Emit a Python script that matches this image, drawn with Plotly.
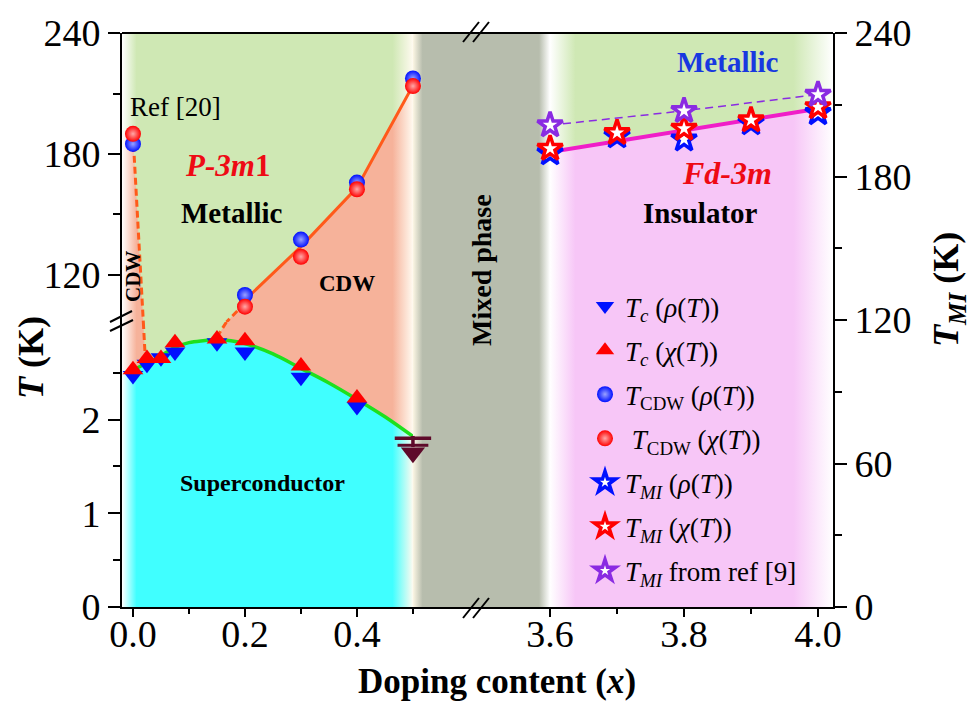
import plotly.graph_objects as go

FONT = "Liberation Serif"

# ---------------- data ----------------
# superconducting transition Tc (K), left lower panel
tc_x = [0.0, 0.025, 0.05, 0.075, 0.15, 0.2, 0.3, 0.4]
tc_rho = [2.47, 2.59, 2.66, 2.72, 2.82, 2.72, 2.45, 2.14]
tc_chi = [2.53, 2.65, 2.65, 2.82, 2.86, 2.84, 2.57, 2.23]
tc_limit_x = [0.5]
tc_limit_y = [1.8]
tc_fit_x = [0.0, 0.025, 0.05, 0.075, 0.1, 0.125, 0.15, 0.175, 0.2, 0.25, 0.3, 0.35, 0.4, 0.45, 0.5]
tc_fit_y = [2.53, 2.60, 2.68, 2.77, 2.82, 2.84, 2.85, 2.84, 2.81, 2.70, 2.545, 2.39, 2.215, 2.03, 1.82]

# CDW transition (K), left upper panel
cdw_x = [0.0, 0.2, 0.3, 0.4, 0.5]
cdw_rho = [185.0, 110.0, 137.5, 165.8, 217.5]
cdw_chi = [190.0, 104.2, 129.0, 162.5, 213.7]
cdw_line_x = [0.2, 0.3, 0.4, 0.5]
cdw_line_y = [107.5, 134.0, 163.3, 214.0]
# dashed CDW guides crossing the broken T axis (upper part / lower part)
guide_left_hi_x = [0.0, 0.0185]
guide_left_hi_y = [190.0, 96.6]
guide_left_lo_x = [0.0185, 0.022]
guide_left_lo_y = [3.04, 2.65]
guide_right_hi_x = [0.2, 0.167]
guide_right_hi_y = [106.0, 96.6]
guide_right_lo_x = [0.167, 0.15]
guide_right_lo_y = [3.04, 2.88]

# metal-insulator transition T_MI (K), right panel
tmi_x = [3.6, 3.7, 3.8, 3.9, 4.0]
tmi_rho = [189.8, 196.9, 195.6, 202.4, 206.6]
tmi_chi = [191.7, 198.3, 200.1, 203.6, 209.1]
tmi_ref_x = [3.6, 3.8, 4.0]
tmi_ref_y = [201.5, 207.5, 214.3]
tmi_fit_x = [3.6, 4.0]
tmi_fit_y = [190.3, 208.4]

# ticks
xl_ticks = [0.0, 0.2, 0.4]
xl_ticktext = ["0.0", "0.2", "0.4"]
xl_minor = [0.1, 0.3, 0.5]
xr_ticks = [3.6, 3.8, 4.0]
xr_ticktext = ["3.6", "3.8", "4.0"]
xr_minor = [3.7, 3.9]
ylo_ticks = [0, 1, 2]
ylo_minor = [0.5, 1.5, 2.5]
yhi_ticks = [120, 180, 240]
yhi_minor = [150, 210]
yr_ticks = [0, 60, 120, 180, 240]
yr_minor = [30, 90, 150, 210]

# ---------------- layout geometry ----------------
W_FIG, H_FIG = 971, 702
L, R, T, B = 122, 833, 33, 607
XL_RANGE = [-0.0196, 0.5001]
XR_RANGE = [3.5999, 4.0224]
YLO_RANGE = [0, 3.04]
YHI_RANGE = [96.6, 240.05]
YR_RANGE = [0, 240.05]


def fx(p):
    return (p - L) / (R - L)


def fy(p):
    return (B - p) / (B - T)


dL = fx(413)
dR = fx(550)
dB = fy(322)

GREEN = "#cfe8b4"
SALMON = "#f6b29a"
CYAN = "#40ffff"
GRAY = "#b7bdad"
PINK = "#f7c6f7"
ORANGE = "#ff5a1a"
MAGENTA = "#f01ec8"
PURPLE = "#8a2be2"
BLUE = "#0010ff"
RED = "#ff0000"
MAROON = "#5e0a2a"


def left_grad(c):
    return dict(type="horizontal", start=XL_RANGE[0], stop=XL_RANGE[1],
                colorscale=[[0, "#ffffff"], [0.05, c], [0.93, c], [1, "#fffaf0"]])


def right_grad(c):
    return dict(type="horizontal", start=XR_RANGE[0], stop=XR_RANGE[1],
                colorscale=[[0, "#ffffff"], [0.09, c], [0.86, c], [1, "#ffffff"]])


def region(xs, ys, grad, xa, ya):
    return go.Scatter(x=xs, y=ys, fill="toself", mode="none", fillgradient=grad,
                      xaxis=xa, yaxis=ya, showlegend=False, hoverinfo="skip")


fig = go.Figure()

# ---- middle: mixed phase (x, y) ----
fig.add_trace(region([0, 1, 1, 0], [0, 0, 1, 1],
                     dict(type="horizontal", start=0, stop=1,
                          colorscale=[[0, "#fcf6e4"], [0.07, GRAY], [0.92, GRAY], [1, "#ffffff"]]),
                     "x", "y"))

# ---- left lower panel (x2, y2) ----
x0, x1 = XL_RANGE
fig.add_trace(region([x0, x1, x1, x0], [0, 0, YLO_RANGE[1], YLO_RANGE[1]], left_grad(SALMON), "x2", "y2"))
inner = [i for i, v in enumerate(tc_fit_x) if guide_left_lo_x[1] < v <= guide_right_lo_x[1]]
gx = guide_left_lo_x + [tc_fit_x[i] for i in inner] + guide_right_lo_x[::-1]
gy = guide_left_lo_y + [tc_fit_y[i] for i in inner] + guide_right_lo_y[::-1]
fig.add_trace(region(gx, gy, left_grad(GREEN), "x2", "y2"))
fig.add_trace(region([x0] + tc_fit_x + [x1, x0], [tc_fit_y[0]] + tc_fit_y + [0, 0], left_grad(CYAN), "x2", "y2"))

fig.add_trace(go.Scatter(x=tc_fit_x, y=tc_fit_y, mode="lines", line=dict(color="#1ee01e", width=3.5, shape="spline"),
                         xaxis="x2", yaxis="y2", showlegend=False, hoverinfo="skip"))
for gxs, gys in [(guide_left_lo_x, guide_left_lo_y), (guide_right_lo_x, guide_right_lo_y)]:
    fig.add_trace(go.Scatter(x=gxs, y=gys, mode="lines", line=dict(color=ORANGE, width=3, dash="7px,4px"),
                             xaxis="x2", yaxis="y2", showlegend=False, hoverinfo="skip"))

# upper-limit symbol at x = 0.5 (bar - stem - bar - arrow head)
fig.add_trace(go.Scatter(x=tc_limit_x, y=tc_limit_y, mode="markers",
                         marker=dict(symbol="line-ew", size=26, line=dict(color=MAROON, width=3.5)),
                         cliponaxis=False, xaxis="x2", yaxis="y2", showlegend=False, hoverinfo="skip"))
fig.add_trace(go.Scatter(x=tc_limit_x, y=[v - 0.035 for v in tc_limit_y], mode="markers",
                         marker=dict(symbol="line-ns", size=8, line=dict(color=MAROON, width=3.5)),
                         cliponaxis=False, xaxis="x2", yaxis="y2", showlegend=False, hoverinfo="skip"))
fig.add_trace(go.Scatter(x=tc_limit_x, y=[v - 0.075 for v in tc_limit_y], mode="markers",
                         marker=dict(symbol="line-ew", size=22, line=dict(color=MAROON, width=3)),
                         cliponaxis=False, xaxis="x2", yaxis="y2", showlegend=False, hoverinfo="skip"))
fig.add_trace(go.Scatter(x=tc_limit_x, y=[v - 0.155 for v in tc_limit_y], mode="markers",
                         marker=dict(symbol="triangle-down", size=21, color=MAROON),
                         cliponaxis=False, xaxis="x2", yaxis="y2", showlegend=False, hoverinfo="skip"))

fig.add_trace(go.Scatter(x=tc_x, y=tc_rho, mode="markers", name="<i>T<sub>c</sub></i> (<i>ρ</i>(<i>T</i>))",
                         legendgroup="g1",
                         marker=dict(symbol="triangle-down", size=18, color=BLUE),
                         cliponaxis=False, xaxis="x2", yaxis="y2"))
fig.add_trace(go.Scatter(x=tc_x, y=tc_chi, mode="markers", name="<i>T<sub>c</sub></i> (<i>χ</i>(<i>T</i>))",
                         legendgroup="g2",
                         marker=dict(symbol="triangle-up", size=18, color=RED),
                         cliponaxis=False, xaxis="x2", yaxis="y2"))

# ---- left upper panel (x3, y3) ----
y0h, y1h = YHI_RANGE
fig.add_trace(region([x0, x1, x1, x0], [y0h, y0h, y1h, y1h], left_grad(GREEN), "x3", "y3"))
sx = guide_right_hi_x[::-1] + cdw_line_x + [x1, x1]
sy = guide_right_hi_y[::-1] + cdw_line_y + [cdw_line_y[-1], y0h]
fig.add_trace(region(sx, sy, left_grad(SALMON), "x3", "y3"))
fig.add_trace(region([x0, x0] + guide_left_hi_x, [y0h, guide_left_hi_y[0]] + guide_left_hi_y,
                     left_grad(SALMON), "x3", "y3"))

fig.add_trace(go.Scatter(x=cdw_line_x, y=cdw_line_y, mode="lines", line=dict(color=ORANGE, width=3),
                         xaxis="x3", yaxis="y3", showlegend=False, hoverinfo="skip"))
for gxs, gys in [(guide_left_hi_x, guide_left_hi_y), (guide_right_hi_x, guide_right_hi_y)]:
    fig.add_trace(go.Scatter(x=gxs, y=gys, mode="lines", line=dict(color=ORANGE, width=3, dash="7px,4px"),
                             xaxis="x3", yaxis="y3", showlegend=False, hoverinfo="skip"))

fig.add_trace(go.Scatter(x=cdw_x, y=cdw_rho, mode="markers", name="<i>T</i><sub>CDW</sub> (<i>ρ</i>(<i>T</i>))",
                         legendgroup="g3",
                         marker=dict(symbol="circle", size=16, color=BLUE,
                                     gradient=dict(type="radial", color="#9aa2ff")),
                         cliponaxis=False, xaxis="x3", yaxis="y3"))
fig.add_trace(go.Scatter(x=cdw_x, y=cdw_chi, mode="markers", name=" <i>T</i><sub>CDW</sub> (<i>χ</i>(<i>T</i>))",
                         legendgroup="g4",
                         marker=dict(symbol="circle", size=16, color=RED,
                                     gradient=dict(type="radial", color="#ffa8a8")),
                         cliponaxis=False, xaxis="x3", yaxis="y3"))

# ---- right panel (x4, y4) ----
r0, r1 = XR_RANGE
fig.add_trace(region([r0, r1, r1, r0], [0, 0, YR_RANGE[1], YR_RANGE[1]], right_grad(PINK), "x4", "y4"))
fig.add_trace(region([r0, r0] + tmi_fit_x + [r1, r1],
                     [YR_RANGE[1], tmi_fit_y[0]] + tmi_fit_y + [tmi_fit_y[-1], YR_RANGE[1]],
                     right_grad(GREEN), "x4", "y4"))
fig.add_trace(go.Scatter(x=tmi_fit_x, y=tmi_fit_y, mode="lines", line=dict(color=MAGENTA, width=4),
                         xaxis="x4", yaxis="y4", showlegend=False, hoverinfo="skip"))
fig.add_trace(go.Scatter(x=tmi_ref_x, y=tmi_ref_y, mode="lines", line=dict(color=PURPLE, width=1.5, dash="8px,5px"),
                         xaxis="x4", yaxis="y4", showlegend=False, hoverinfo="skip"))

star_specs = [(tmi_x, tmi_rho, BLUE, "<i>T<sub>MI</sub></i> (<i>ρ</i>(<i>T</i>))", "g5"),
              (tmi_x, tmi_chi, RED, "<i>T<sub>MI</sub></i> (<i>χ</i>(<i>T</i>))", "g6"),
              (tmi_ref_x, tmi_ref_y, PURPLE, "<i>T<sub>MI</sub></i> from ref [9]", "g7")]
for xs, ys, col, nm, grp in star_specs:
    fig.add_trace(go.Scatter(x=xs, y=ys, mode="markers", name=nm, legendgroup=grp,
                             marker=dict(symbol="star", size=19, color="white", line=dict(color=col, width=3.5)),
                             cliponaxis=False, xaxis="x4", yaxis="y4"))

# ---------------- axes ----------------
tickfont = dict(family=FONT, size=38, color="black")
common = dict(showgrid=False, zeroline=False, showline=True, linecolor="black", linewidth=2,
              ticks="outside", tickcolor="black", tickwidth=2, tickfont=tickfont)


def minor(vals, ln):
    return dict(tickvals=vals, ticklen=ln, tickwidth=2, ticks="outside", tickcolor="black")


fig.update_layout(
    xaxis=dict(domain=[dL, dR], range=[0, 1], anchor="y", showgrid=False, zeroline=False, showline=True,
               linecolor="black", linewidth=2, ticks="", showticklabels=False, fixedrange=True),
    yaxis=dict(domain=[0, 1], range=[0, 1], anchor="x", visible=False, fixedrange=True),
    xaxis2=dict(domain=[0, dL], range=XL_RANGE, anchor="y2", tickvals=xl_ticks, ticktext=xl_ticktext, ticklen=8,
                ticklabelstandoff=-16, minor=minor(xl_minor, 5), **common),
    yaxis2=dict(domain=[0, dB], range=YLO_RANGE, anchor="x2", tickvals=ylo_ticks, ticklen=12,
                minor=minor(ylo_minor, 7), **common),
    xaxis3=dict(domain=[0, dL], range=XL_RANGE, anchor="y3", matches="x2", visible=False),
    yaxis3=dict(domain=[dB, 1], range=YHI_RANGE, anchor="x3", tickvals=yhi_ticks, ticklen=12,
                minor=minor(yhi_minor, 7), **common),
    xaxis4=dict(domain=[dR, 1], range=XR_RANGE, anchor="y4", tickvals=xr_ticks, ticktext=xr_ticktext, ticklen=8,
                ticklabelstandoff=-16, minor=minor(xr_minor, 5), **common),
    yaxis4=dict(domain=[0, 1], range=YR_RANGE, anchor="x4", side="right", tickvals=yr_ticks, ticklen=12,
                minor=minor(yr_minor, 7), **common),
)

# ---------------- frame decorations ----------------
shapes = [dict(type="line", xref="paper", yref="paper", x0=0, x1=1, y0=1, y1=1,
               line=dict(color="black", width=2))]
for (ax0, ay0, ax1, ay1) in [(110, 322, 132, 311), (110, 331, 133, 320),
                             (463, 42, 479, 22), (473, 42, 489, 22),
                             (463, 618, 479, 598), (473, 618, 489, 598)]:
    shapes.append(dict(type="line", xref="paper", yref="paper", x0=fx(ax0), y0=fy(ay0), x1=fx(ax1), y1=fy(ay1),
                       line=dict(color="black", width=2)))


def ann(text, x, y, size, color="black", angle=0):
    return dict(text=text, x=fx(x), y=fy(y), xref="paper", yref="paper", showarrow=False,
                xanchor="center", yanchor="middle", textangle=angle,
                font=dict(family=FONT, size=size, color=color))


annotations = [
    ann("Ref [20]", 175, 107, 27),
    ann("<b><i>P-3m</i>1</b>", 227, 165, 31, "#ee0a14"),
    ann("<b>Metallic</b>", 232, 213, 29),
    ann("<b>CDW</b>", 347, 283, 23),
    ann("<b>CDW</b>", 133, 277, 21, angle=-90),
    ann("<b>Superconductor</b>", 262, 483, 24),
    ann("<b>Mixed phase</b>", 481, 270, 28, angle=-90),
    ann("<b>Metallic</b>", 728, 62, 29, "#1838e0"),
    ann("<b><i>Fd-3m</i></b>", 727, 173, 32, "#ee0a14"),
    ann("<b>Insulator</b>", 700, 213, 29),
    ann("<b><i>T</i> (K)</b>", 31, 358, 36, angle=-90),
    ann("<b><i>T<sub>MI</sub></i> (K)</b>", 948, 290, 36, angle=-90),
    ann("<b>Doping content (<i>x</i>)</b>", 497, 681, 35),
]

fig.update_layout(
    width=W_FIG, height=H_FIG,
    margin=dict(l=L, r=W_FIG - R, t=T, b=H_FIG - B),
    paper_bgcolor="white", plot_bgcolor="rgba(0,0,0,0)",
    font=dict(family=FONT, color="black"),
    shapes=shapes, annotations=annotations,
    showlegend=True,
    legend=dict(x=fx(585), y=fy(282), xanchor="left", yanchor="top", bgcolor="rgba(0,0,0,0)",
                font=dict(family=FONT, size=27, color="black"), tracegroupgap=6, itemwidth=30),
    hovermode=False,
)

fig.write_html("out.html")
